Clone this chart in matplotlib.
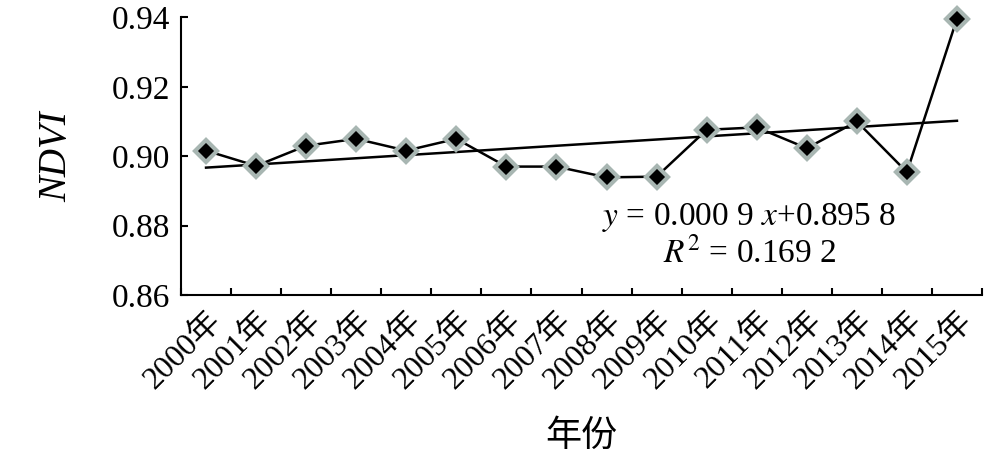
import matplotlib.pyplot as plt
import numpy as np

plt.rcParams['font.family'] = ['Liberation Serif', 'Noto Sans CJK SC']
plt.rcParams['mathtext.fontset'] = 'stix'

years = ['2000年', '2001年', '2002年', '2003年', '2004年', '2005年', '2006年', '2007年',
         '2008年', '2009年', '2010年', '2011年', '2012年', '2013年', '2014年', '2015年']
ndvi = [0.9016, 0.8972, 0.9030, 0.9050, 0.9016, 0.9050, 0.8970, 0.8970,
        0.8939, 0.8941, 0.9076, 0.9083, 0.9023, 0.9100, 0.8954, 0.9396]
slope = 0.0009
intercept = 0.8958

x = np.arange(1, len(years) + 1)

fig = plt.figure(figsize=(10, 4.69), dpi=100)
ax = fig.add_axes([0.181, 0.371, 0.801, 0.592])

ax.plot(x, slope * x + intercept, color='black', lw=1.8, zorder=2)
ax.plot(x, ndvi, color='black', lw=1.8, marker='D', markersize=11,
        markerfacecolor='black', markeredgecolor='#a8b6b2', markeredgewidth=3,
        zorder=3, clip_on=False)

ax.set_xlim(0.5, len(years) + 0.5)
ax.set_ylim(0.86, 0.94)
ax.set_yticks([0.86, 0.88, 0.90, 0.92, 0.94])
ax.set_yticklabels(['0.86', '0.88', '0.90', '0.92', '0.94'])

ax.set_xticks(np.arange(0.5, len(years) + 1))
ax.set_xticklabels([])
ax.set_xticks(x, minor=True)
ax.set_xticklabels(years, minor=True, rotation=45, ha='right', va='top',
                   rotation_mode='anchor')
ax.tick_params(axis='x', which='minor', length=0, pad=8, labelsize=23)
ax.tick_params(axis='both', which='major', direction='in', length=5, width=1.5, labelsize=24)
ax.tick_params(axis='y', pad=8)

for s in ['top', 'right']:
    ax.spines[s].set_visible(False)
for s in ['left', 'bottom']:
    ax.spines[s].set_linewidth(1.5)

ax.set_ylabel('NDVI', fontsize=28, style='italic', labelpad=26)
ax.set_xlabel('年份', fontsize=26, labelpad=18)

ax.text(11.85, 0.8822, '$y$ = 0.000 9 $x$+0.895 8', fontsize=24, ha='center', va='center')
ax.text(11.85, 0.8722, '$R^2$ = 0.169 2', fontsize=24, ha='center', va='center')

fig.savefig('out.png', dpi=100)
